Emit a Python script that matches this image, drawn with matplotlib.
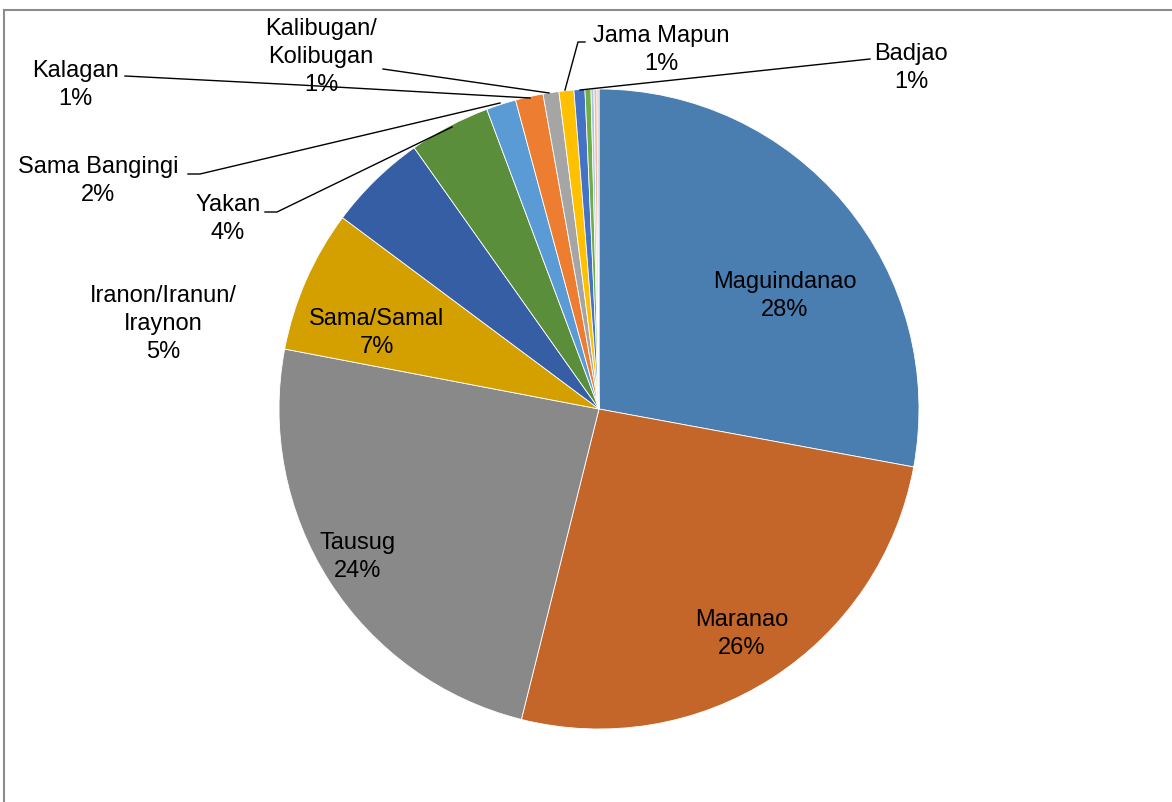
import matplotlib.pyplot as plt

plt.rcParams['font.family'] = ['Liberation Sans', 'DejaVu Sans']

# Data (percent share, clockwise from 12 o'clock)
groups = ['Maguindanao', 'Maranao', 'Tausug', 'Sama/Samal', 'Iranon/Iranun/\nIraynon',
          'Yakan', 'Sama Bangingi', 'Kalagan', 'Kalibugan/\nKolibugan', 'Jama Mapun',
          'Badjao', 'Other A', 'Other B', 'Other C', 'Other D']
shares = [27.9, 26.0, 24.1, 7.2, 5.0, 4.1, 1.5, 1.4, 0.8, 0.75, 0.55, 0.3, 0.15, 0.15, 0.1]
colors = ['#4A7EB0', '#C4652A', '#898989', '#D4A000', '#355EA5', '#5A8E3A',
          '#5B9BD5', '#ED7D31', '#A5A5A5', '#FFC000', '#4472C4', '#70AD47',
          '#A9C6E8', '#F4B9A0', '#C9C9C9']

W, H = 1172, 803
fig = plt.figure(figsize=(W / 100, H / 100), dpi=100)
ax = fig.add_axes([0, 0, 1, 1])

cx, cy, r = 599, H - 410, 320
wedges, _ = ax.pie(shares, colors=colors, startangle=90, counterclock=False,
                   center=(cx, cy), radius=r, frame=True,
                   wedgeprops=dict(edgecolor='white', linewidth=0.6))
ax.set_xlim(0, W)
ax.set_ylim(0, H)
ax.axis('off')

fs = 17
ls = 1.38
def lab(i):
    return f"{groups[i]}\n{shares[i]:.0f}%"

# inside labels
inside = {0: (785, 296), 1: (742, 634), 2: (358, 557), 3: (377, 333)}
for i, (x, y) in inside.items():
    ax.text(x, H - y, lab(i), ha='center', va='center', fontsize=fs, linespacing=ls)

# outside labels with leader lines: label pos, line points
outside = {
    4: ((163, 324), None),
    5: ((228, 219), [(265, 213), (277, 213), (452, 128)]),
    6: ((98, 181), [(188, 175), (200, 175), (500, 104)]),
    7: ((75, 85), [(125, 77), (300, 86), (530, 99)]),
    8: ((321, 57), [(383, 70), (549, 94)]),
    9: ((661, 50), [(585, 43), (578, 43), (565, 91)]),
    10: ((911, 68), [(870, 60), (580, 91)]),
}
for i, ((x, y), pts) in outside.items():
    ax.text(x, H - y, lab(i), ha='center', va='center', fontsize=fs, linespacing=ls)
    if pts:
        ax.plot([p[0] for p in pts], [H - p[1] for p in pts], color='black', lw=1)

# chart border (top and left edges visible)
ax.plot([4, 4], [-10, H - 11], color='#8C8C8C', lw=1.5)
ax.plot([4, W + 10], [H - 11, H - 11], color='#8C8C8C', lw=1.5)

fig.savefig('out.png', dpi=100)
